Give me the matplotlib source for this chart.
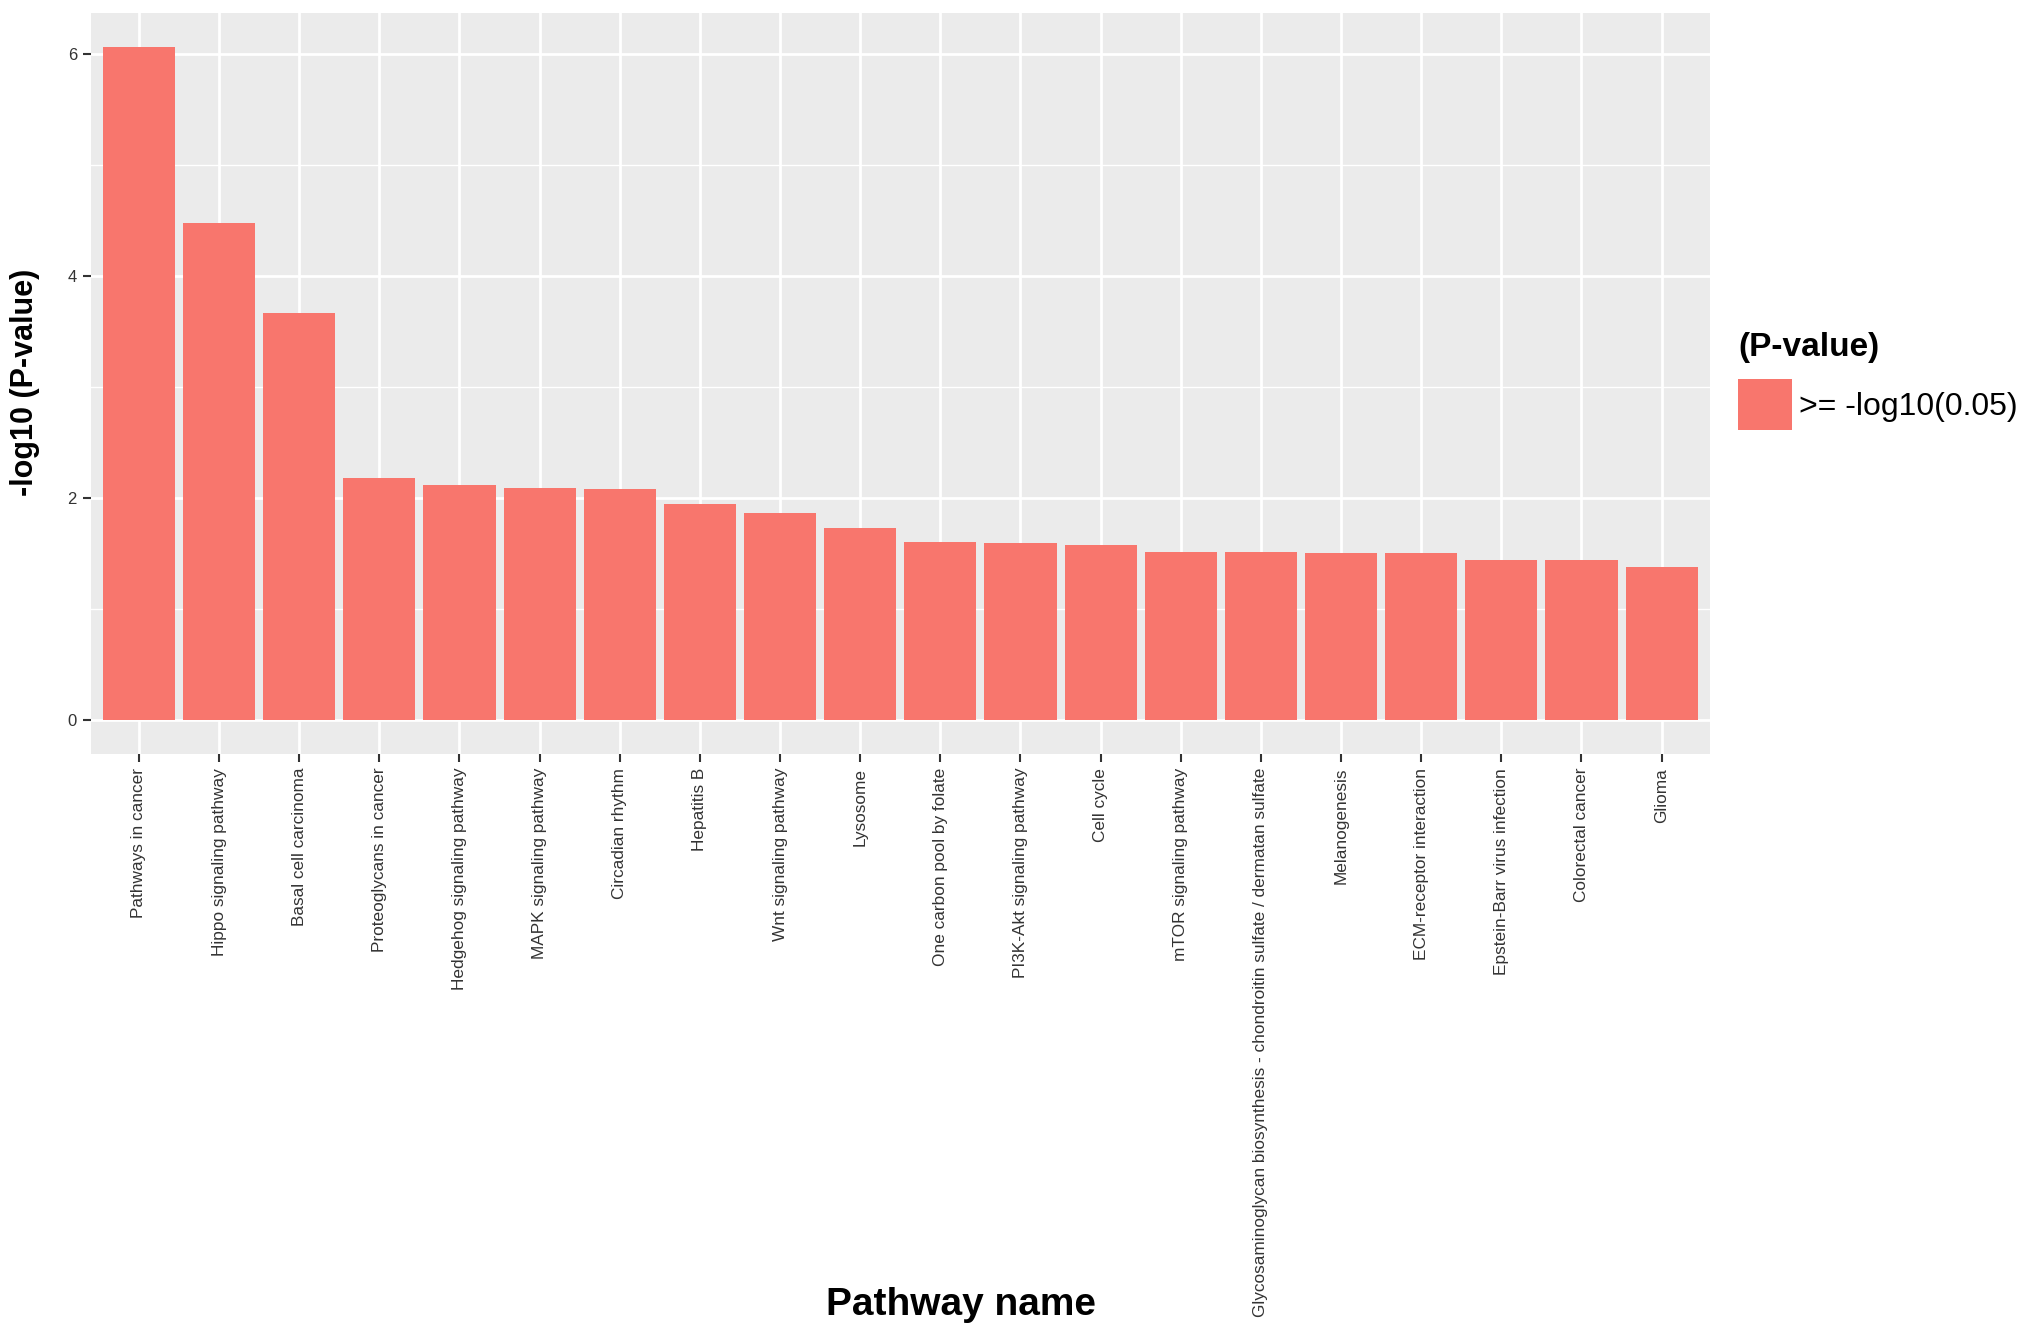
import matplotlib
matplotlib.use('Agg')
import matplotlib.pyplot as plt
from matplotlib.patches import Patch
from matplotlib.ticker import MultipleLocator
import numpy as np

plt.rcParams['font.family'] = ['Liberation Sans', 'DejaVu Sans']

# Pathway enrichment results
pathways = [
    'Pathways in cancer', 'Hippo signaling pathway', 'Basal cell carcinoma',
    'Proteoglycans in cancer', 'Hedgehog signaling pathway', 'MAPK signaling pathway',
    'Circadian rhythm', 'Hepatitis B', 'Wnt signaling pathway', 'Lysosome',
    'One carbon pool by folate', 'PI3K-Akt signaling pathway', 'Cell cycle',
    'mTOR signaling pathway',
    'Glycosaminoglycan biosynthesis - chondroitin sulfate / dermatan sulfate',
    'Melanogenesis', 'ECM-receptor interaction', 'Epstein-Barr virus infection',
    'Colorectal cancer', 'Glioma',
]
neg_log_p = [6.07, 4.48, 3.67, 2.18, 2.12, 2.09, 2.08, 1.95, 1.87, 1.73,
             1.61, 1.60, 1.58, 1.52, 1.52, 1.51, 1.51, 1.44, 1.44, 1.38]
y_ticks = [0, 2, 4, 6]
legend_title = '(P-value)'
legend_label = '>= -log10(0.05)'

bar_color = '#F8766D'
panel_bg = '#EBEBEB'

fig = plt.figure(figsize=(20.31, 13.38), dpi=100)
ax = fig.add_axes([0.0447, 0.4365, 0.7971, 0.5538])

x = np.arange(len(pathways))
ax.bar(x, neg_log_p, width=0.9, color=bar_color, zorder=3)

ymax = max(neg_log_p)
ax.set_xlim(-0.6, len(pathways) - 0.4)
ax.set_ylim(-0.05 * ymax, 1.05 * ymax)

# ggplot-like panel
ax.set_facecolor(panel_bg)
for s in ax.spines.values():
    s.set_visible(False)
ax.set_yticks(y_ticks)
ax.yaxis.set_minor_locator(MultipleLocator(1))
ax.grid(which='major', color='white', linewidth=2.0, zorder=0)
ax.grid(which='minor', axis='y', color='white', linewidth=1.0, zorder=0)
ax.set_axisbelow(True)

ax.set_xticks(x)
ax.set_xticklabels(pathways, rotation=90, ha='center', va='top')
ax.tick_params(axis='both', which='major', length=6, width=1.5, color='#333333',
               labelcolor='#333333', pad=4)
ax.tick_params(axis='x', labelsize=12.4)
ax.tick_params(axis='y', labelsize=12)
ax.tick_params(axis='y', which='minor', length=0)

fig.text(0.0125, 0.7145, '-log10 (P-value)', rotation=90, ha='center', va='center',
         fontsize=22, fontweight='bold')
fig.text(0.473, 0.025, 'Pathway name', ha='center', va='center',
         fontsize=28, fontweight='bold')

handle = Patch(facecolor=bar_color, edgecolor='none')
leg = ax.legend([handle], [legend_label], title=legend_title, loc='upper left',
                bbox_to_anchor=(0.8557, 0.752), bbox_transform=fig.transFigure,
                frameon=False, fontsize=23, handlelength=1.7, handleheight=2.1,
                handletextpad=0.2, borderpad=0, borderaxespad=0,
                alignment='left')
leg.get_title().set_fontsize(24)
leg.get_title().set_fontweight('bold')

fig.savefig('out.png', dpi=100)
